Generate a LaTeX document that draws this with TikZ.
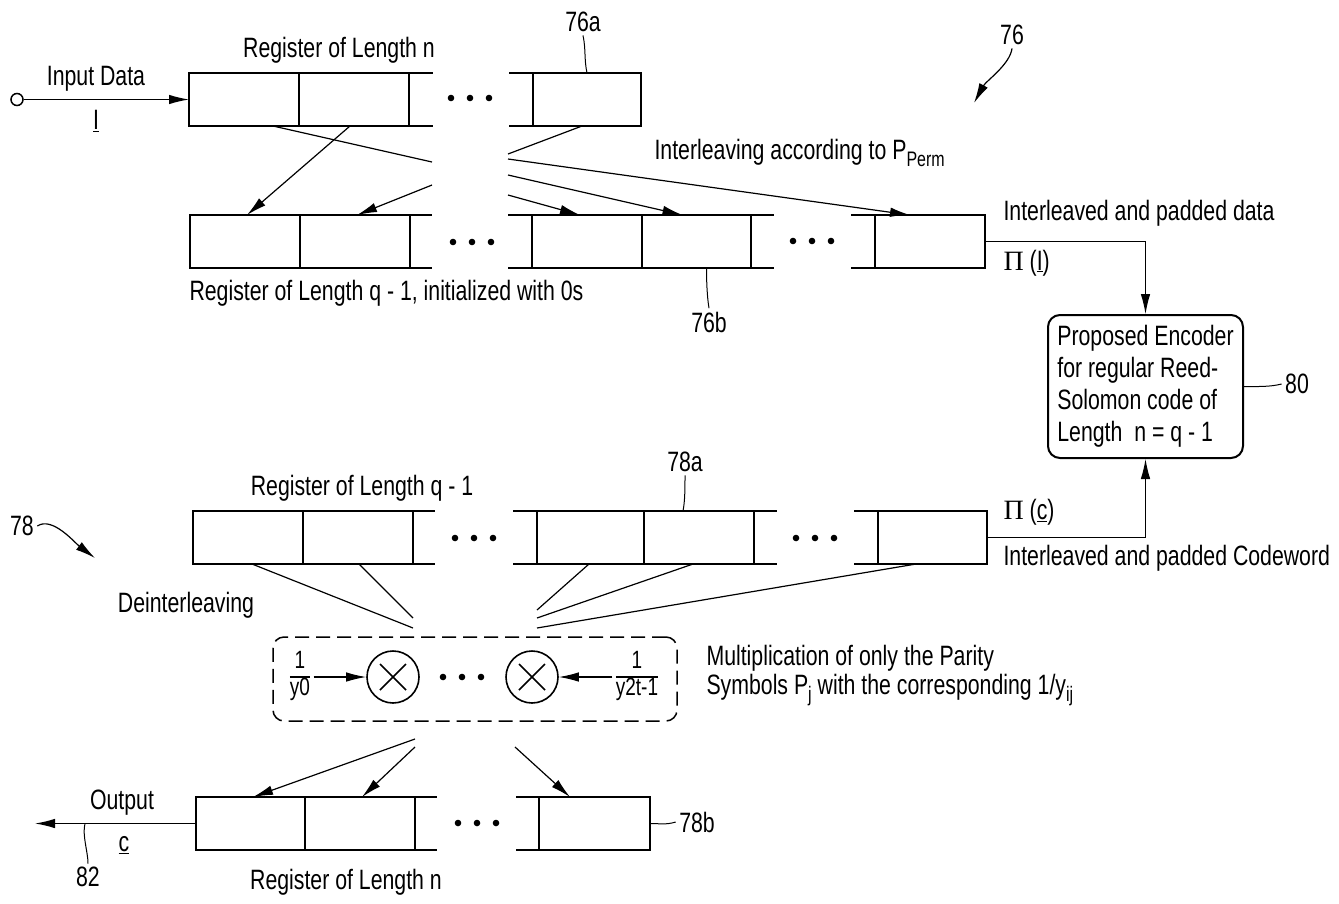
\documentclass[tikz,border=0pt]{standalone}
\usepackage{fontspec}
\setmainfont{Liberation Sans}[FakeStretch=0.76]
\newfontfamily\pifont{Liberation Serif}
\usetikzlibrary{arrows.meta}
\newcommand\mysub[1]{\raisebox{-0.45ex}{\fontsize{21}{21}\selectfont #1}}
\newcommand\myfrac[2]{{\fontsize{25}{27}\selectfont\setlength\arrayrulewidth{1.2pt}\renewcommand\arraystretch{0.95}\begin{tabular}{@{}c@{}}#1\\\hline #2\end{tabular}}}
\newcommand\threedots[2]{\foreach \dx in {-19,0,19}{\fill ([xshift=\dx pt]#1,#2) circle (3.3);}}
\begin{document}
\begin{tikzpicture}[x=1pt,y=-1pt,
  font=\fontsize{28}{32}\selectfont,
  cell/.style={draw, line width=2pt, minimum height=53pt, inner sep=0pt, outer sep=0pt},
  regline/.style={line width=2pt},
  conn/.style={line width=1.2pt},
  arr/.style={conn, -{Latex[length=20pt,width=9.5pt]}},
  lead/.style={line width=1pt},
  mult/.style={circle, draw, line width=1.6pt, minimum size=52pt, inner sep=0pt},
  encbox/.style={draw, line width=2pt, rounded corners=12pt, minimum height=143pt, minimum width=195pt, inner sep=0pt, align=left},
  dbox/.style={draw, line width=1.5pt, dash pattern=on 14pt off 7pt, rounded corners=11pt, minimum width=404pt, minimum height=84pt, inner sep=0pt}
]
\useasboundingbox (0,0) rectangle (1339,903);

% ---------- Register 1 (length n) ----------
\node[cell, minimum width=110pt] (r1a) at (244,99.5) {};
\node[cell, minimum width=110pt] (r1b) at (354,99.5) {};
\node[cell, minimum width=108pt] (r1c) at (587,99.5) {};
\draw[regline] (r1b.north east) -- ++(24,0) (r1b.south east) -- ++(24,0);
\draw[regline] (r1c.north west) -- ++(-24,0) (r1c.south west) -- ++(-24,0);
\threedots{470}{98}

% ---------- Register 2 (length q-1) ----------
\node[cell, minimum width=110pt] (r2a) at (245,241.5) {};
\node[cell, minimum width=110pt] (r2b) at (355,241.5) {};
\node[cell, minimum width=110pt] (r2c) at (587,241.5) {};
\node[cell, minimum width=109pt] (r2d) at (696.5,241.5) {};
\node[cell, minimum width=110pt] (r2e) at (930,241.5) {};
\draw[regline] (r2b.north east) -- ++(22,0) (r2b.south east) -- ++(22,0);
\draw[regline] (r2c.north west) -- ++(-24,0) (r2c.south west) -- ++(-24,0);
\draw[regline] (r2d.north east) -- ++(23,0) (r2d.south east) -- ++(23,0);
\draw[regline] (r2e.north west) -- ++(-24,0) (r2e.south west) -- ++(-24,0);
\threedots{472}{242}
\threedots{812}{241}

% ---------- Register 3 (length q-1) ----------
\node[cell, minimum width=110pt] (r3a) at (248,537.5) {};
\node[cell, minimum width=110pt] (r3b) at (358,537.5) {};
\node[cell, minimum width=107pt] (r3c) at (590.5,537.5) {};
\node[cell, minimum width=110pt] (r3d) at (699,537.5) {};
\node[cell, minimum width=109pt] (r3e) at (932.5,537.5) {};
\draw[regline] (r3b.north east) -- ++(22,0) (r3b.south east) -- ++(22,0);
\draw[regline] (r3c.north west) -- ++(-24,0) (r3c.south west) -- ++(-24,0);
\draw[regline] (r3d.north east) -- ++(23,0) (r3d.south east) -- ++(23,0);
\draw[regline] (r3e.north west) -- ++(-24,0) (r3e.south west) -- ++(-24,0);
\threedots{474}{538}
\threedots{815}{538}

% ---------- Register 4 (length n) ----------
\node[cell, minimum width=109pt] (r4a) at (250.5,823.5) {};
\node[cell, minimum width=110pt] (r4b) at (360,823.5) {};
\node[cell, minimum width=111pt] (r4c) at (594.5,823.5) {};
\draw[regline] (r4b.north east) -- ++(22,0) (r4b.south east) -- ++(22,0);
\draw[regline] (r4c.north west) -- ++(-23,0) (r4c.south west) -- ++(-23,0);
\threedots{477}{823}

% ---------- Encoder ----------
\node[encbox] (enc) at (1145.5,386.5) {Proposed Encoder\\for regular Reed-\\Solomon code of\\Length\ \ n = q - 1};

% ---------- Multiplier box ----------
\node[dbox] (dbx) at (475,679) {};
\node (f0) at (300,677) {\myfrac{1}{y0}};
\node[mult] (m1) at (393,677) {};
\node[mult] (m2) at (532,677) {};
\node (f1) at (637,677) {\myfrac{1}{y2t-1}};
\foreach \m in {m1,m2}{
  \draw[line width=1.6pt] ([shift={(-13,-13)}]\m.center) -- ([shift={(13,13)}]\m.center);
  \draw[line width=1.6pt] ([shift={(-13,13)}]\m.center) -- ([shift={(13,-13)}]\m.center);
}
\threedots{462}{677}
\draw[arr] (f0) -- (m1);
\draw[arr] (f1) -- (m2);

% ---------- Input ----------
\node[circle, draw, line width=1.5pt, minimum size=12pt, inner sep=0pt] (in) at (17,99.5) {};
\draw[arr] (in) -- (r1a.west);
\node (lIn) at (96,79) {Input Data};
\node (lI) at (96,121) {\underline{I}};

% ---------- Interleaving connectors ----------
\coordinate (iL1) at (432,162);
\coordinate (iL2) at (432,185);
\coordinate (iR1) at (508,154);
\coordinate (iR2) at (508,159);
\coordinate (iR3) at (508,175);
\coordinate (iR4) at (508,195);
\draw[conn] ([xshift=29pt]r1a.south) -- (iL1);
\draw[arr] ([xshift=-4pt]r1b.south) -- ([xshift=2pt]r2a.north);
\draw[arr] (iL2) -- ([xshift=2pt]r2b.north);
\draw[conn] ([xshift=-5pt]r1c.south) -- (iR1);
\draw[arr] (iR2) -- ([xshift=-20pt]r2e.north);
\draw[arr] (iR3) -- ([xshift=-14pt]r2d.north);
\draw[arr] (iR4) -- ([xshift=-7pt]r2c.north);

% ---------- Encoder connectors ----------
\draw[arr, line width=1pt] (r2e.east) -| (enc.north);
\draw[arr, line width=1pt] (r3e.east) -| (enc.south);

% ---------- Deinterleaving connectors ----------
\coordinate (dL1) at (413,628);
\coordinate (dL2) at (413,618);
\coordinate (dR1) at (537,610);
\coordinate (dR2) at (537,618);
\coordinate (dR3) at (537,628);
\draw[conn] ([xshift=4pt]r3a.south) -- (dL1);
\draw[conn] ([xshift=1pt]r3b.south) -- (dL2);
\draw[conn] ([xshift=-1.5pt]r3c.south) -- (dR1);
\draw[conn] ([xshift=-6pt]r3d.south) -- (dR2);
\draw[conn] ([xshift=-16.5pt]r3e.south) -- (dR3);

\coordinate (uL1) at (415,739);
\coordinate (uL2) at (415,747);
\coordinate (uR) at (515,747);
\draw[arr] (uL1) -- ([xshift=2.5pt]r4a.north);
\draw[arr] (uL2) -- ([xshift=2pt]r4b.north);
\draw[arr] (uR) -- ([xshift=-24.5pt]r4c.north);

% ---------- Output ----------
\coordinate (outEnd) at (35,823.5);
\draw[arr] (r4a.west) -- (outEnd);
\node (lOut) at (122,803) {Output};
\node (lc) at (124,845) {\underline{c}};
\node (l82) at (88,877) {82};
\coordinate (oc82) at (85,823.5);
\draw[lead] (oc82) .. controls +(-3,12) and +(0,-12) .. (l82.north);

% ---------- Labels ----------
\node (lReg1) at (339,50) {Register of Length n};
\node (l76a) at (583,22) {76a};
\draw[lead] (l76a.south) .. controls +(3,14) and +(-3,-14) .. (r1c.north);
\node (l76) at (1012,35) {76};
\coordinate (tip76) at (974,103);
\draw[arr] (l76.south) .. controls +(-2,16) and +(12,-22) .. (tip76);
\node[anchor=west] (lInt) at (651,153) {Interleaving according to P\mysub{Perm}};
\node[anchor=west] (lReg2) at (186,293) {Register of Length q - 1, initialized with 0s};
\node (l76b) at (709,322) {76b};
\draw[lead] ([xshift=10pt]r2d.south) .. controls +(0,12) and +(-2,-12) .. (l76b.north);
\node[anchor=west] (lData) at (1000,213) {Interleaved and padded data};
\node[anchor=west] (lPiI) at (1000,263) {{\pifont Π} (\underline{I})};
\node (l80) at (1297,384) {80};
\draw[lead] (enc.east) .. controls +(14,0) and +(-12,3) .. (l80.west);
\node (lReg3) at (362,488) {Register of Length q - 1};
\node (l78a) at (685,462) {78a};
\draw[lead] (l78a.south) .. controls +(0,12) and +(2,-10) .. ([xshift=-16pt]r3d.north);
\node[anchor=west] (lPic) at (1000,512) {{\pifont Π} (\underline{c})};
\node[anchor=west] (lCode) at (1000,558) {Interleaved and padded Codeword};
\node (l78) at (22,526) {78};
\coordinate (tip78) at (95,558);
\draw[arr] (l78.east) .. controls +(15,-10) and +(-20,-15) .. (tip78);
\node (lDe) at (186,605) {Deinterleaving};
\node[anchor=west] (lMul) at (703,658) {Multiplication of only the Parity};
\node[anchor=west] (lSym) at (703,690) {Symbols P\mysub{j} with the corresponding 1/y\mysub{ij}};
\node (l78b) at (697,822) {78b};
\draw[lead] (r4c.east) .. controls +(10,0) and +(-10,3) .. (l78b.west);
\node (lReg4) at (346,882) {Register of Length n};
\end{tikzpicture}
\end{document}
